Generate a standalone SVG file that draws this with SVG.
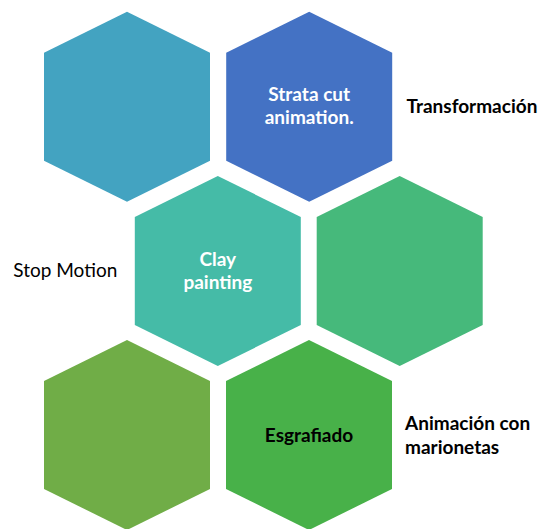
<svg xmlns="http://www.w3.org/2000/svg" xmlns:xlink="http://www.w3.org/1999/xlink" width="547" height="529" viewBox="0 0 547 529">
  <defs>
    <!-- pointy-top hexagon centred on the origin -->
    <polygon id="hex" points="0,-95 83,-54 83,54 0,95 -83,54 -83,-54"/>
  </defs>
  <style>
    .lbl { font-family: Lato, "Open Sans", "Liberation Sans", sans-serif; font-size: 19px; }
    .in { font-weight: bold; text-anchor: middle; }
    .w { fill: #ffffff; }
    .k { fill: #000000; }
    .side { font-weight: bold; fill: #000000; }
  </style>
  <rect width="547" height="529" fill="#ffffff"/>

  <g id="hex-top-left">
    <use xlink:href="#hex" transform="translate(127,106.7)" fill="#43A3C1"/>
  </g>

  <g id="hex-strata">
    <use xlink:href="#hex" transform="translate(309.2,106.7)" fill="#4472C4"/>
    <text class="lbl in w" x="309.2" y="100.5">Strata cut</text>
    <text class="lbl in w" x="309.2" y="123.5">animation.</text>
  </g>

  <g id="label-transformacion">
    <text class="lbl side" x="406.5" y="113.3">Transformación</text>
  </g>

  <g id="hex-clay">
    <use xlink:href="#hex" transform="translate(217.8,271)" fill="#45BBA7"/>
    <text class="lbl in w" x="217.8" y="266">Clay</text>
    <text class="lbl in w" x="217.8" y="288.5">painting</text>
  </g>

  <g id="label-stop-motion">
    <text class="lbl k" x="13.3" y="276.7">Stop Motion</text>
  </g>

  <g id="hex-mid-right">
    <use xlink:href="#hex" transform="translate(399.7,271)" fill="#46B97B"/>
  </g>

  <g id="hex-bottom-left">
    <use xlink:href="#hex" transform="translate(127,435)" fill="#70AD47"/>
  </g>

  <g id="hex-esgrafiado">
    <use xlink:href="#hex" transform="translate(309,435)" fill="#48B149"/>
    <text class="lbl in k" x="309" y="441.7">Esgrafiado</text>
  </g>

  <g id="label-marionetas">
    <text class="lbl side" x="405" y="430">Animación con</text>
    <text class="lbl side" x="405" y="454">marionetas</text>
  </g>
</svg>
